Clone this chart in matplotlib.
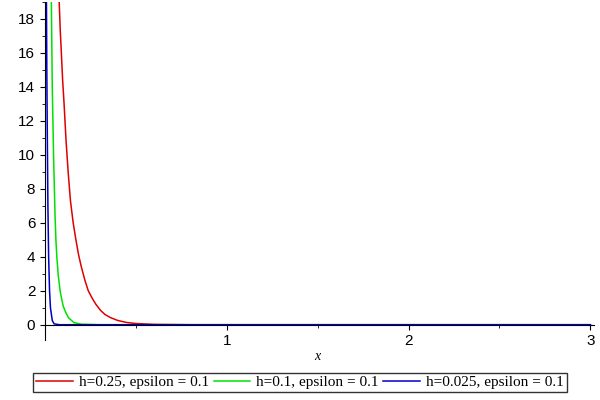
import matplotlib
matplotlib.use("Agg")
import matplotlib.pyplot as plt
from matplotlib.ticker import MultipleLocator

red_x = [0.078, 0.084, 0.09, 0.097, 0.105, 0.116, 0.128, 0.14, 0.155, 0.17, 0.185, 0.2, 0.22, 0.238, 0.26,
         0.28, 0.305, 0.33, 0.36, 0.4, 0.45, 0.5, 0.6, 0.8, 3.0]
red_y = [19, 17.3, 16, 14.4, 13, 10.8, 8.9, 7.3, 6.0, 5, 4.1, 3.4, 2.6, 2, 1.55,
         1.2, 0.85, 0.6, 0.42, 0.25, 0.13, 0.07, 0.02, 0, 0]
green_x = [0.035, 0.04, 0.047, 0.055, 0.06, 0.065, 0.073, 0.083, 0.09, 0.1, 0.115, 0.13, 0.16, 0.2, 0.3, 3.0]
green_y = [19, 14, 10, 6.5, 5, 4, 2.9, 2, 1.6, 1.1, 0.7, 0.4, 0.12, 0.03, 0, 0]
blue_x = [0.008, 0.01, 0.012, 0.016, 0.02, 0.025, 0.03, 0.04, 0.05, 0.08, 3.0]
blue_y = [19, 15, 12, 7, 4, 2, 1, 0.25, 0.05, 0, 0]
labels = ["h=0.25, epsilon = 0.1", "h=0.1, epsilon = 0.1", "h=0.025, epsilon = 0.1"]

plt.rcParams["font.family"] = ["Liberation Serif", "DejaVu Serif"]
fig = plt.figure(figsize=(6, 4), dpi=100)
ax = fig.add_axes([0.075, 0.15, 0.915, 0.845])
ax.plot(red_x, red_y, color="#e00000", lw=1.1, label=labels[0])
ax.plot(green_x, green_y, color="#00e000", lw=1.1, label=labels[1])
ax.plot(blue_x, blue_y, color="#0000c8", lw=1.1, label=labels[2])
ax.set_xlim(0, 3.02)
ax.set_ylim(-0.9, 19)
for s in ["top", "right"]:
    ax.spines[s].set_visible(False)
ax.spines["bottom"].set_position(("data", 0))
ax.xaxis.set_major_locator(MultipleLocator(1))
ax.xaxis.set_minor_locator(MultipleLocator(0.5))
ax.yaxis.set_major_locator(MultipleLocator(2))
ax.yaxis.set_minor_locator(MultipleLocator(1))
ax.set_xticks([1, 2, 3])
ax.tick_params(labelsize=11)
for lab in ax.get_xticklabels() + ax.get_yticklabels():
    lab.set_family(["Liberation Sans", "DejaVu Sans"])
ax.text(1.5, -1.9, "x", style="italic", ha="center", va="center", fontsize=10)
fig.legend(loc="lower center", bbox_to_anchor=(0.5, 0.0), ncol=3, fontsize=11,
           frameon=True, fancybox=False, edgecolor="black", handlelength=2.4,
           columnspacing=0.3, handletextpad=0.4, borderpad=0.2)
fig.savefig("out.png")
